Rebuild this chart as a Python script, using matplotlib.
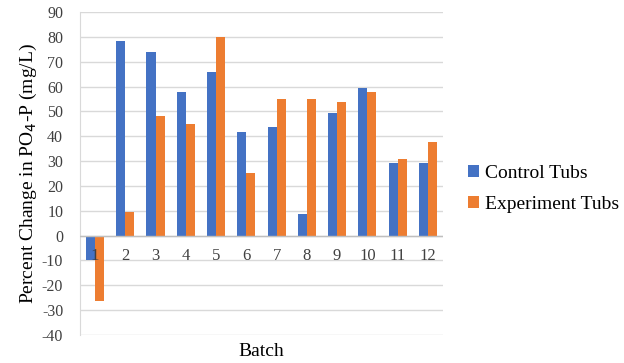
import numpy as np
import matplotlib.pyplot as plt

batches = [str(i) for i in range(1, 13)]
control = [-9.7, 78.5, 74, 57.7, 66, 41.9, 43.9, 8.9, 49.5, 59.6, 29.3, 29.3]
experiment = [-26.5, 9.4, 48.2, 45, 80, 25.2, 55, 55, 53.6, 57.7, 31, 37.8]

plt.rcParams['font.family'] = ['Liberation Serif', 'DejaVu Serif']
plt.rcParams['axes.unicode_minus'] = False

fig = plt.figure(figsize=(6.24, 3.63), dpi=100)
ax = fig.add_axes([0.128, 0.077, 0.582, 0.89])

x = np.arange(1, 13)
w = 0.3
ax.bar(x - w / 2, control, w, color='#4472C4', label='Control Tubs', zorder=3)
ax.bar(x + w / 2, experiment, w, color='#ED7D31', label='Experiment Tubs', zorder=3)

ax.set_xlim(0.5, 12.5)
ax.set_ylim(-40, 90)
ax.set_yticks(range(-40, 91, 10))
ax.grid(axis='y', color='#d9d9d9', linewidth=1, zorder=0)
ax.axhline(0, color='#bfbfbf', linewidth=1, zorder=4)

for s in ['top', 'right', 'bottom']:
    ax.spines[s].set_visible(False)
ax.spines['left'].set_color('#d9d9d9')

ax.set_xticks(x)
ax.set_xticklabels([])
for xi, lab in zip(x, batches):
    ax.text(xi, -5, lab, ha='center', va='top', fontsize=12, color='#404040', zorder=5)
ax.tick_params(axis='x', length=0)
ax.tick_params(axis='y', length=0, labelsize=11.5, labelcolor='#404040', pad=12)

ax.set_xlabel('Batch', fontsize=14, labelpad=2)
ax.set_ylabel('Percent Change in PO$_4$-P (mg/L)', fontsize=14, labelpad=2)

fig.legend(loc='center left', bbox_to_anchor=(0.722, 0.48), frameon=False,
           fontsize=14, handlelength=0.55, handleheight=0.55, handletextpad=0.3,
           labelspacing=0.7)

fig.savefig('out.png', dpi=100)
